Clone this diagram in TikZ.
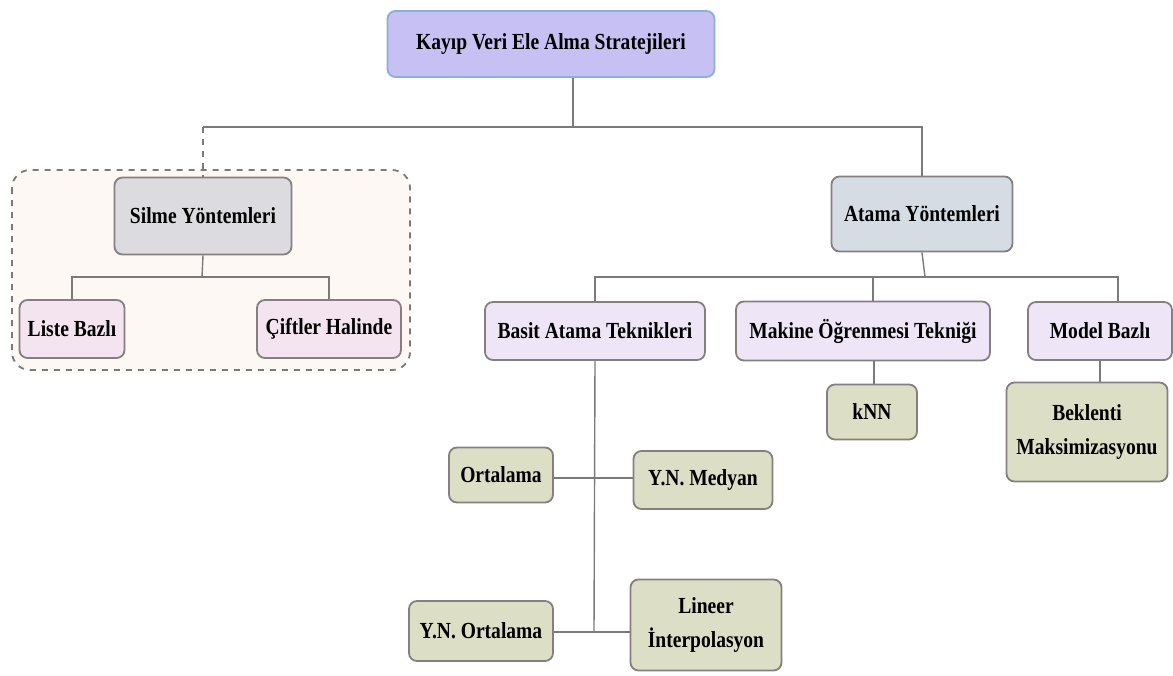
\documentclass[tikz,border=0pt]{standalone}
\usepackage{fontspec}
\setmainfont{Liberation Serif}[FakeStretch=0.85]
\usetikzlibrary{positioning}
\definecolor{topfill}{HTML}{C6C1F2}
\definecolor{topline}{HTML}{8BAEDC}
\definecolor{boxline}{HTML}{857F7F}
\definecolor{linkgray}{HTML}{7A7A7A}
\definecolor{grpfill}{HTML}{FDF8F4}
\definecolor{silfill}{HTML}{DCDCE0}
\definecolor{atafill}{HTML}{D6DCE4}
\definecolor{pinkfill}{HTML}{F3E4F0}
\definecolor{lilfill}{HTML}{EEE6F7}
\definecolor{olivefill}{HTML}{DCDFC6}
\tikzset{
  box/.style={draw=boxline, rounded corners=4pt, line width=0.9pt, align=center,
    font=\fontsize{11.5}{16}\selectfont\bfseries, inner sep=1pt},
  link/.style={draw=linkgray, line width=0.7pt},
}

\begin{document}
\begin{tikzpicture}[x=0.5pt, y=-0.5pt]
    \useasboundingbox (0, 0) rectangle (1173, 675);
    % dashed group behind the deletion branch
    \draw[dashed, draw=linkgray, fill=grpfill, line width=0.9pt, rounded corners=9pt]
        (12, 170) rectangle (410, 370);
    % boxes
    \node[box, draw=topline, fill=topfill, minimum width=163.5pt, minimum height=33pt]
        (root) at (551, 44) {Kayıp Veri Ele Alma Stratejileri};
    \node[box, fill=silfill, minimum width=88.5pt, minimum height=38.5pt]
        (silme) at (203, 216) {Silme Yöntemleri};
    \node[box, fill=pinkfill, minimum width=52.5pt, minimum height=29pt]
        (liste) at (72, 329) {Liste Bazlı};
    \node[box, fill=pinkfill, minimum width=72pt, minimum height=29pt]
        (ciftler) at (329, 329) {Çiftler Halinde};
    \node[box, fill=atafill, minimum width=90.5pt, minimum height=37.5pt]
        (atama) at (922, 214) {Atama Yöntemleri};
    \node[box, fill=lilfill, minimum width=110pt, minimum height=29pt]
        (basit) at (595, 331) {Basit Atama Teknikleri};
    \node[box, fill=lilfill, minimum width=127pt, minimum height=29.5pt]
        (makine) at (863, 331) {Makine Öğrenmesi Tekniği};
    \node[box, fill=lilfill, minimum width=72pt, minimum height=29pt]
        (model) at (1100, 331) {Model Bazlı};
    \node[box, fill=olivefill, minimum width=45pt, minimum height=27.5pt]
        (knn) at (872, 412) {kNN};
    \node[box, fill=olivefill, minimum width=80.5pt, minimum height=49.5pt]
        (beklenti) at (1087, 432) {Beklenti\\[1pt]Maksimizasyonu};
    \node[box, fill=olivefill, minimum width=52pt, minimum height=27.5pt]
        (ortalama) at (501, 475) {Ortalama};
    \node[box, fill=olivefill, minimum width=69.5pt, minimum height=29pt]
        (medyan) at (703, 480) {Y.N. Medyan};
    \node[box, fill=olivefill, minimum width=72pt, minimum height=30pt]
        (ynort) at (481, 631) {Y.N. Ortalama};
    \node[box, fill=olivefill, minimum width=75.5pt, minimum height=45.5pt]
        (lineer) at (706, 625) {Lineer\\[1pt]İnterpolasyon};
    % junctions
    \coordinate (j0) at (573, 127);
    \coordinate (j1) at (202, 277);
    \coordinate (j2) at (925, 277);
    \coordinate (j3) at (594, 478);
    \coordinate (j4) at (594, 632);
    % connectors
    \draw[link] ([xshift=11pt]root.south) -- (j0);
    \draw[link] (silme.north |- j0) -- (atama.north |- j0) -- (atama.north);
    \draw[link, dashed] (silme.north |- j0) -- (silme.north);
    \draw[link] (silme.south) -- (j1);
    \draw[link] (liste.north) -- (liste.north |- j1) -- (ciftler.north |- j1) -- (ciftler.north);
    \draw[link] (atama.south) -- (j2);
    \draw[link] (basit.north) -- (basit.north |- j2) -- ([xshift=9pt]model.north |- j2)
        -- ([xshift=9pt]model.north);
    \draw[link] ([xshift=5pt]makine.north) -- ([xshift=5pt]makine.north |- j2);
    \draw[link] (basit.south) -- (j4);
    \draw[link] (ortalama.east |- j3) -- (medyan.west |- j3);
    \draw[link] (ynort.east |- j4) -- (lineer.west |- j4);
    \draw[link] ([xshift=5.5pt]makine.south) -- ([xshift=5.5pt]makine.south |- knn.north);
    \draw[link] ([xshift=6.5pt]beklenti.north |- model.south) -- ([xshift=6.5pt]beklenti.north);
\end{tikzpicture}
\end{document}
